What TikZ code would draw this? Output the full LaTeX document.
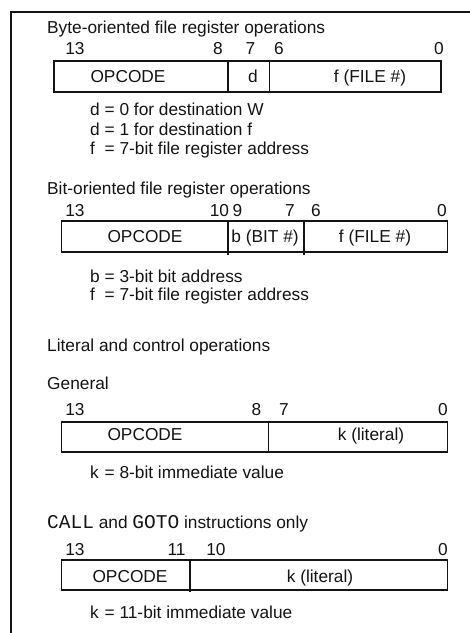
\documentclass[tikz,border=0pt]{standalone}
\usepackage{fontspec}
\setmainfont{Liberation Sans}
\newfontfamily\mymono{Liberation Mono}
\definecolor{ink}{HTML}{141414}
\newcommand\ft{\fontsize{17.3}{20}\selectfont}
\begin{document}
\begin{tikzpicture}[x=1pt,y=-1pt,
  txt/.style={anchor=base west, inner sep=0pt, text=ink, font=\ft},
  num/.style={anchor=base, inner sep=0pt, text=ink, font=\ft},
  cell/.style={anchor=base, inner sep=0pt, text=ink, font=\ft},
  reg/.style={draw=ink, line width=1.2pt},
  frame/.style={draw=ink, line width=1.5pt}]
\useasboundingbox (0,0) rectangle (470,633);
\fill[white] (0,0) rectangle (470,633);
% outer frame
\coordinate (fbl) at (11,640);
\coordinate (ftl) at (11,12);
\coordinate (ftr) at (475,12);
\draw[frame] (fbl) -- (ftl) -- (ftr);

% ---------- Section 1 ----------
\node[txt] (t1) at (47,33.5) {Byte-oriented file register operations};
\node[num] (n1a) at (75,54.5) {13};
\node[num] (n1b) at (218,54.5) {8};
\node[num] (n1c) at (250.5,54.5) {7};
\node[num] (n1d) at (279,54.5) {6};
\node[num] (n1e) at (439,54.5) {0};
\draw[reg] (54,61) rectangle (441,92);
\draw[reg] (228,61) -- (228,92);
\draw[reg] (269.5,61) -- (269.5,92);
\node[cell] (c1a) at (128,82) {OPCODE};
\node[cell] (c1b) at (253,82) {d};
\node[cell] (c1c) at (370,82) {f (FILE \#)};
\node[txt] (d1a) at (90,115) {d = 0 for destination W};
\node[txt] (d1b) at (90,135) {d = 1 for destination f};
\node[txt] (d1c) at (90,154) {\rlap{f}\phantom{d} = 7-bit file register address};

% ---------- Section 2 ----------
\node[txt] (t2) at (47,194) {Bit-oriented file register operations};
\node[num] (n2a) at (75,216) {13};
\node[num] (n2b) at (219.5,216) {10};
\node[num] (n2c) at (237.5,216) {9};
\node[num] (n2d) at (290,216) {7};
\node[num] (n2e) at (316,216) {6};
\node[num] (n2f) at (442,216) {0};
\draw[reg] (61.5,221) rectangle (447.5,252);
\draw[reg] (228,221) -- (228,255);
\draw[reg] (304,221) -- (304,255);
\node[cell] (c2a) at (145,242) {OPCODE};
\node[cell] (c2b) at (265,242) {b (BIT \#)};
\node[cell] (c2c) at (375,242) {f (FILE \#)};
\node[txt] (d2a) at (90,282) {b = 3-bit bit address};
\node[txt] (d2b) at (90,300) {\rlap{f}\phantom{b} = 7-bit file register address};

% ---------- Section 3 ----------
\node[txt] (t3) at (47,351.5) {Literal and control operations};
\node[txt] (t3b) at (47,389) {General};
\node[num] (n3a) at (75,415) {13};
\node[num] (n3b) at (256.5,415) {8};
\node[num] (n3c) at (284,415) {7};
\node[num] (n3d) at (443,415) {0};
\draw[reg] (61.5,422) rectangle (447.5,452);
\draw[reg] (268.5,422) -- (268.5,452);
\node[cell] (c3a) at (145,440) {OPCODE};
\node[cell] (c3b) at (371,440) {k (literal)};
\node[txt] (d3a) at (90,478) {\rlap{k}\phantom{d} = 8-bit immediate value};

% ---------- Section 4 ----------
\node[txt] (t4) at (47,528) {{\mymono\fontsize{19.5}{20}\selectfont CALL} and {\mymono\fontsize{19.5}{20}\selectfont GOTO} instructions only};
\node[num] (n4a) at (75,555) {13};
\node[num] (n4b) at (176.5,555) {11};
\node[num] (n4c) at (216,555) {10};
\node[num] (n4d) at (443,555) {0};
\draw[reg] (61.5,560) rectangle (447.5,590);
\draw[reg] (190,560) -- (190,592);
\node[cell] (c4a) at (130,582) {OPCODE};
\node[cell] (c4b) at (320,582) {k (literal)};
\node[txt] (d4a) at (90,618) {\rlap{k}\phantom{d} = 11-bit immediate value};
\end{tikzpicture}
\end{document}
